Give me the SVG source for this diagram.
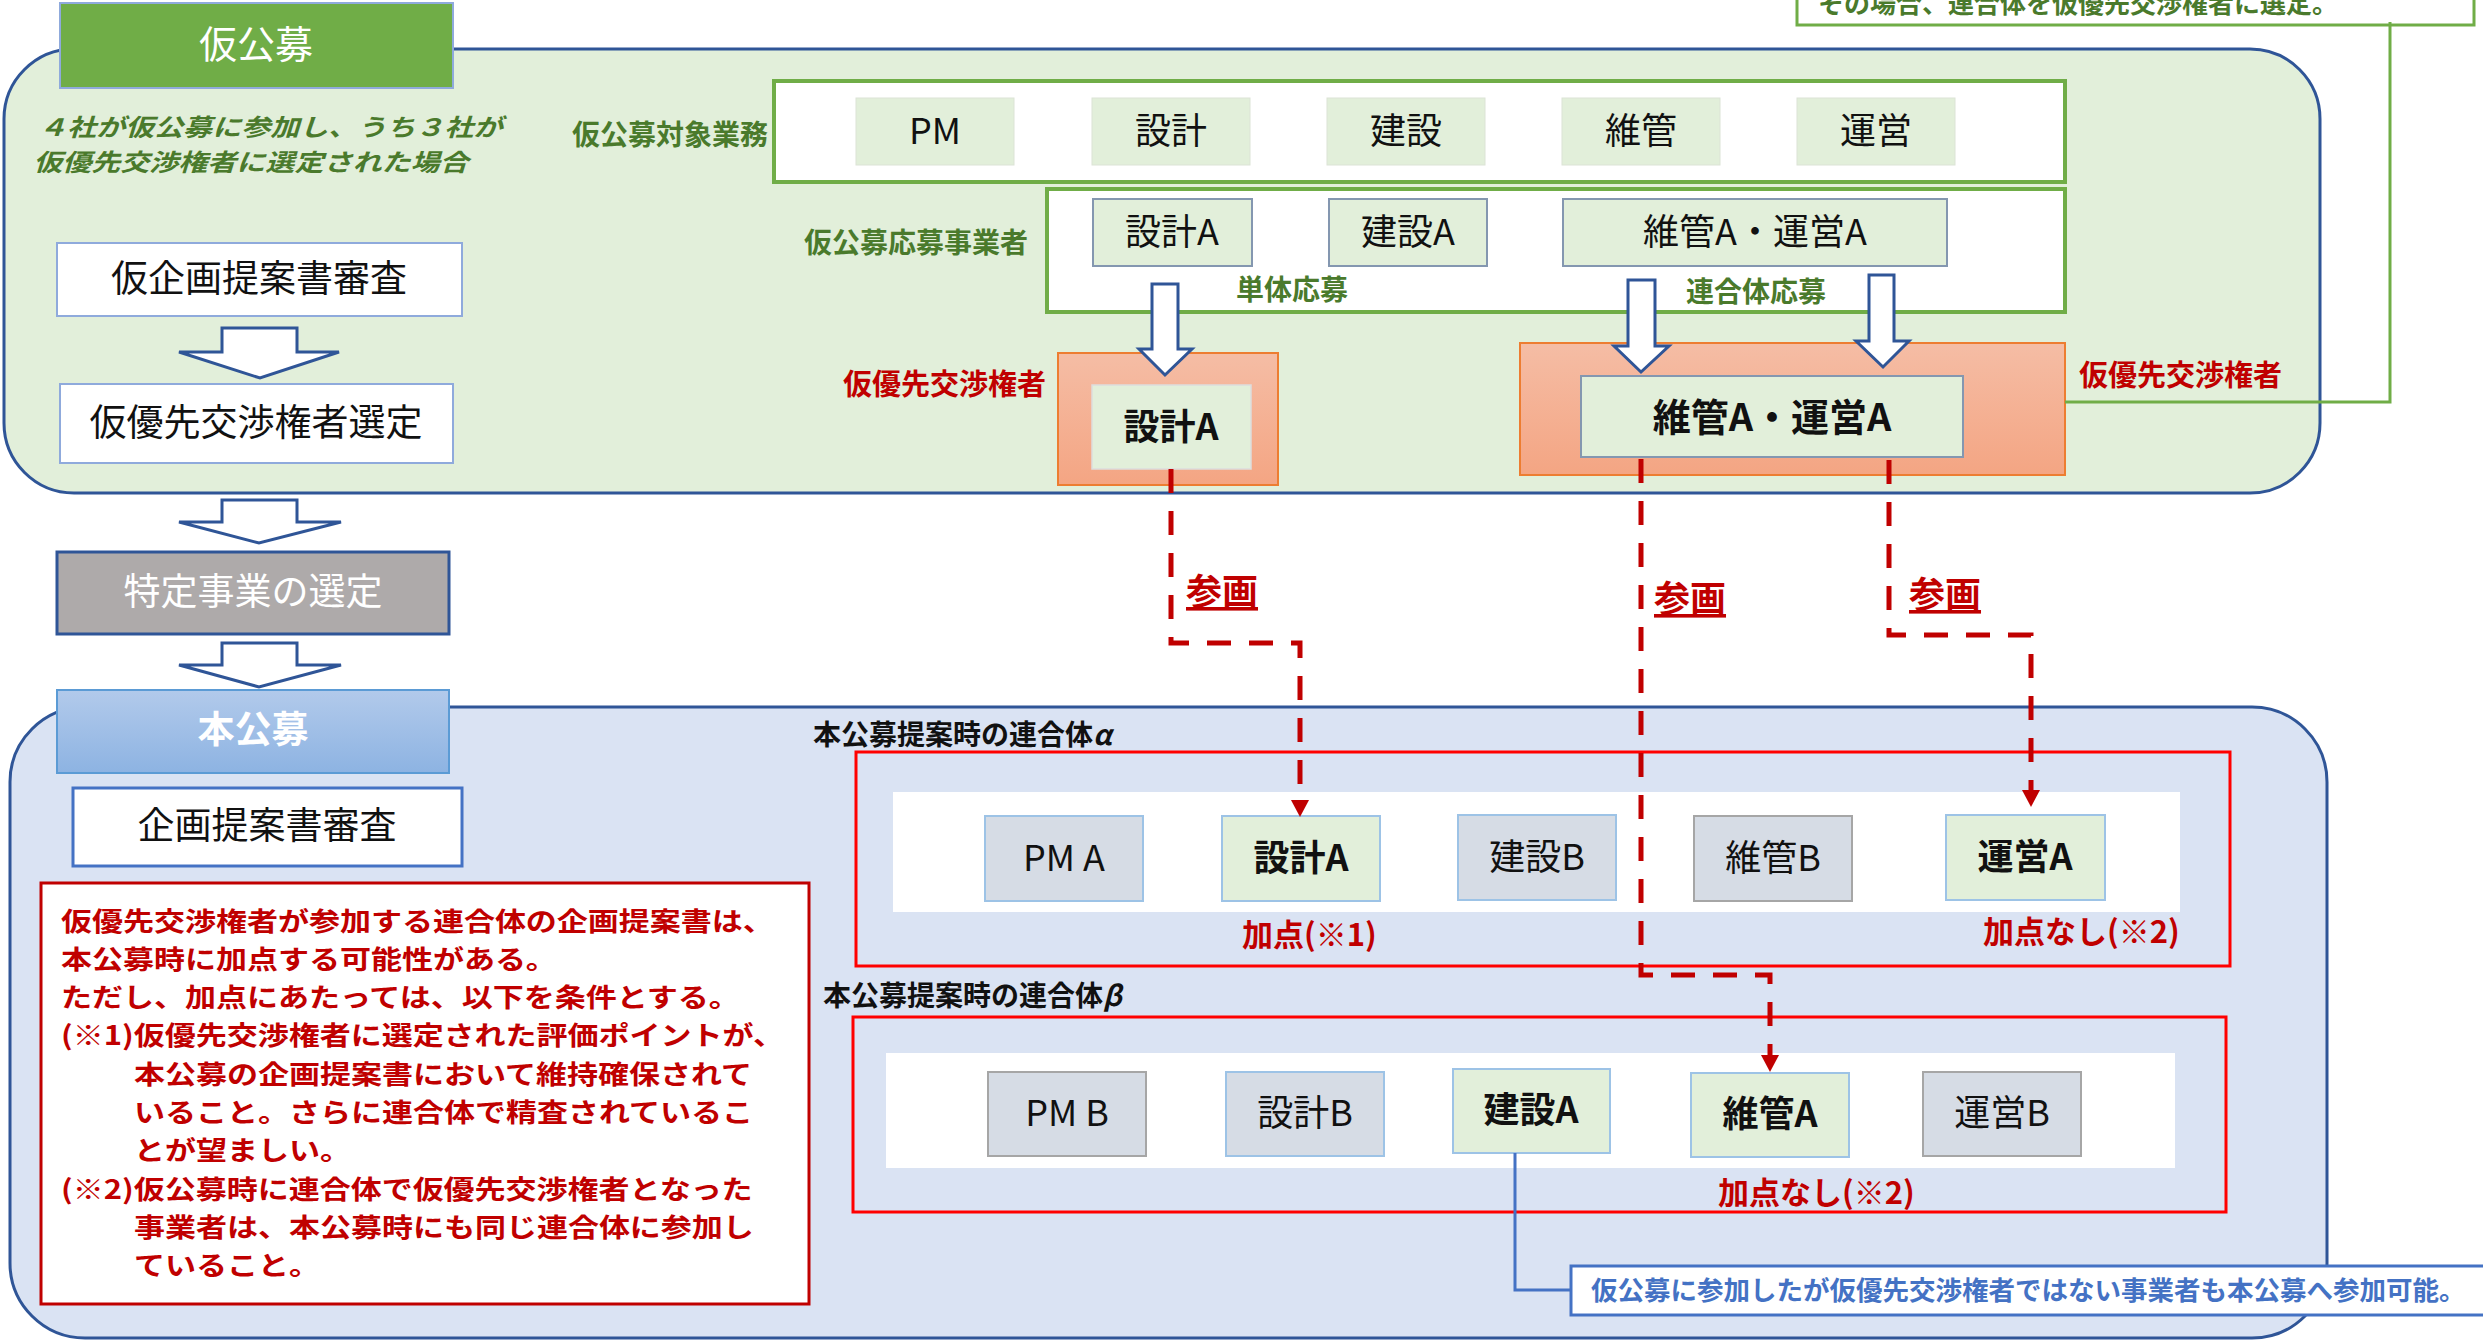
<svg xmlns="http://www.w3.org/2000/svg" width="2483" height="1340" viewBox="0 0 2483 1340">
<defs>
<linearGradient id="gOrange" x1="0" y1="0" x2="0" y2="1"><stop offset="0" stop-color="#F5BDA5"/><stop offset="1" stop-color="#F4A583"/></linearGradient>
<linearGradient id="gBlue" x1="0" y1="0" x2="0" y2="1"><stop offset="0" stop-color="#B2CAEB"/><stop offset="1" stop-color="#8DB3E2"/></linearGradient>
<marker id="arr" markerUnits="userSpaceOnUse" markerWidth="20" markerHeight="20" viewBox="0 -10 18 20" refX="0" refY="0" orient="auto"><path d="M0,-9 L17,0 L0,9 Z" fill="#C00000"/></marker>
<style>
text{font-family:"Noto Sans CJK JP","Noto Sans",sans-serif}
.item{font-size:36px;text-anchor:middle;fill:#111}
.b{font-weight:700}
.lbl{font-size:28px;font-weight:700;fill:#4A7A2C}
.red{fill:#C00000;font-weight:700}
.wt{fill:#fff;font-size:37px;text-anchor:middle}
.blk{stroke:#2F5597;stroke-width:3;fill:#fff}
.dash{fill:none;stroke:#C00000;stroke-width:5;stroke-dasharray:24 18}
.tbox{fill:#E2EFDA;stroke:#DCE3D6;stroke-width:1}
.abox{fill:#E2EFDA;stroke:#8497B0;stroke-width:2}
.gbox{fill:#D6DCE5}
.gbl{stroke:#9DC3E6;stroke-width:2}
.ggr{stroke:#A6A6A6;stroke-width:2}
.lbox{fill:#fff;stroke:#8FAADC;stroke-width:2}
.rtxt{font-size:26.5px;fill:#C00000;font-weight:700}
</style>
</defs>
<rect width="2483" height="1340" fill="#fff"/>

<g id="note-top">
<rect x="1797" y="-40" width="677" height="65" fill="#fff" stroke="#70AD47" stroke-width="3"/>
<text x="1818" y="13" class="lbl" style="font-size:26px">その場合、連合体を仮優先交渉権者に選定。</text>
</g>

<g id="kari-area">
<rect x="4" y="49" width="2316" height="444" rx="70" fill="#E2EFDA" stroke="#2F5597" stroke-width="3"/>
</g>
<g id="kari-header">
<rect x="60" y="3" width="393" height="85" fill="#70AD47" stroke="#8FAADC" stroke-width="2"/>
<text x="256" y="58" class="wt" style="font-size:38px">仮公募</text>
</g>
<g id="kari-note">
<g transform="matrix(1.21,0,0,1,38,0)">
<text x="0" y="136" class="lbl" style="font-size:24px;font-style:italic">４社が仮公募に参加し、うち３社が</text>
<text x="-4" y="171" class="lbl" style="font-size:24px;font-style:italic">仮優先交渉権者に選定された場合</text>
</g>
</g>

<g id="target-work">
<text x="768" y="145" class="lbl" text-anchor="end">仮公募対象業務</text>
<rect x="774" y="81" width="1291" height="101" fill="#fff" stroke="#70AD47" stroke-width="4"/>
<rect class="tbox" x="856" y="98" width="158" height="67"/><text class="item" x="935" y="144">PM</text>
<rect class="tbox" x="1092" y="98" width="158" height="67"/><text class="item" x="1171" y="144">設計</text>
<rect class="tbox" x="1327" y="98" width="158" height="67"/><text class="item" x="1406" y="144">建設</text>
<rect class="tbox" x="1562" y="98" width="158" height="67"/><text class="item" x="1641" y="144">維管</text>
<rect class="tbox" x="1797" y="98" width="158" height="67"/><text class="item" x="1876" y="144">運営</text>
</g>

<g id="applicants">
<text x="1028" y="253" class="lbl" text-anchor="end">仮公募応募事業者</text>
<rect x="1047" y="189" width="1018" height="123" fill="#fff" stroke="#70AD47" stroke-width="4"/>
<rect class="abox" x="1093" y="199" width="159" height="67"/><text class="item" x="1172" y="245">設計A</text>
<rect class="abox" x="1329" y="199" width="158" height="67"/><text class="item" x="1408" y="245">建設A</text>
<rect class="abox" x="1563" y="199" width="384" height="67"/><text class="item" x="1755" y="245">維管A・運営A</text>
<text x="1236" y="300" class="lbl">単体応募</text>
<text x="1686" y="302" class="lbl">連合体応募</text>
</g>

<g id="pref-1">
<text x="843" y="395" class="red" font-size="29">仮優先交渉権者</text>
<rect x="1058" y="353" width="220" height="132" fill="url(#gOrange)" stroke="#ED7D31" stroke-width="2"/>
<rect x="1092" y="385" width="159" height="84" fill="#E2EFDA" stroke="#DDDDDD" stroke-width="1.5"/>
<text class="item b" x="1171" y="440">設計A</text>
</g>
<g id="pref-2">
<rect x="1520" y="343" width="545" height="132" fill="url(#gOrange)" stroke="#ED7D31" stroke-width="2"/>
<rect x="1581" y="376" width="382" height="81" fill="#E2EFDA" stroke="#8497B0" stroke-width="2"/>
<text class="item b" x="1772" y="431" style="font-size:38px">維管A・運営A</text>
<text x="2079" y="386" class="red" font-size="29">仮優先交渉権者</text>
</g>

<g id="left-kari-review">
<rect class="lbox" x="57" y="243" width="405" height="73"/>
<text class="item" x="259" y="292" style="font-size:37px">仮企画提案書審査</text>
</g>
<g id="left-kari-select">
<rect class="lbox" x="60" y="384" width="393" height="79"/>
<text class="item" x="256" y="436" style="font-size:37px">仮優先交渉権者選定</text>
</g>
<g id="left-tokutei">
<rect x="57" y="552" width="392" height="82" fill="#AEAAAA" stroke="#2F5597" stroke-width="3"/>
<text class="wt" x="253" y="605">特定事業の選定</text>
</g>

<g id="hon-area">
<rect x="10" y="707" width="2317" height="631" rx="75" fill="#DAE3F3" stroke="#2F5597" stroke-width="3"/>
</g>
<g id="hon-header">
<rect x="57" y="690" width="392" height="83" fill="url(#gBlue)" stroke="#5B9BD5" stroke-width="2"/>
<text class="wt b" x="253" y="743">本公募</text>
</g>
<g id="hon-review">
<rect x="73" y="788" width="389" height="78" fill="#fff" stroke="#4472C4" stroke-width="3"/>
<text class="item" x="267" y="839" style="font-size:37px">企画提案書審査</text>
</g>

<g id="conditions">
<rect x="41" y="883" width="768" height="421" fill="#fff" stroke="#C00000" stroke-width="3"/>
<g transform="matrix(1.17,0,0,1,61,0)">
<text class="rtxt" x="0" y="931">仮優先交渉権者が参加する連合体の企画提案書は、</text>
<text class="rtxt" x="0" y="969">本公募時に加点する可能性がある。</text>
<text class="rtxt" x="0" y="1007">ただし、加点にあたっては、以下を条件とする。</text>
<text class="rtxt" x="0" y="1045">(※1)仮優先交渉権者に選定された評価ポイントが、</text>
<text class="rtxt" x="62.4" y="1084">本公募の企画提案書において維持確保されて</text>
<text class="rtxt" x="62.4" y="1122">いること。さらに連合体で精査されているこ</text>
<text class="rtxt" x="62.4" y="1160">とが望ましい。</text>
<text class="rtxt" x="0" y="1199">(※2)仮公募時に連合体で仮優先交渉権者となった</text>
<text class="rtxt" x="62.4" y="1237">事業者は、本公募時にも同じ連合体に参加し</text>
<text class="rtxt" x="62.4" y="1275">ていること。</text>
</g>
</g>

<g id="jv-alpha">
<text x="813" y="745" font-size="28" font-weight="700" fill="#111">本公募提案時の連合体<tspan font-style="italic">α</tspan></text>
<rect x="856" y="752" width="1374" height="214" fill="none" stroke="#FF0000" stroke-width="3"/>
<rect x="893" y="792" width="1287" height="120" fill="#fff"/>
<rect class="gbox gbl" x="985" y="816" width="158" height="85"/><text class="item" x="1064" y="871">PM A</text>
<rect class="gbl" fill="#E2EFDA" x="1222" y="816" width="158" height="85"/><text class="item b" x="1301" y="871">設計A</text>
<rect class="gbox gbl" x="1458" y="815" width="158" height="85"/><text class="item" x="1537" y="870">建設B</text>
<rect class="gbox ggr" x="1694" y="816" width="158" height="85"/><text class="item" x="1773" y="871">維管B</text>
<rect class="gbl" fill="#E2EFDA" x="1946" y="815" width="159" height="85"/><text class="item b" x="2025" y="870">運営A</text>
<text x="1242" y="946" class="red" font-size="31">加点(※1)</text>
<text x="1983" y="943" class="red" font-size="31">加点なし(※2)</text>
</g>

<g id="jv-beta">
<text x="823" y="1006" font-size="28" font-weight="700" fill="#111">本公募提案時の連合体<tspan font-style="italic">β</tspan></text>
<rect x="853" y="1017" width="1373" height="195" fill="none" stroke="#FF0000" stroke-width="3"/>
<rect x="886" y="1053" width="1289" height="115" fill="#fff"/>
<rect class="gbox ggr" x="988" y="1072" width="158" height="84"/><text class="item" x="1067" y="1126">PM B</text>
<rect class="gbox gbl" x="1226" y="1072" width="158" height="84"/><text class="item" x="1305" y="1126">設計B</text>
<rect class="gbl" fill="#E2EFDA" x="1453" y="1069" width="157" height="84"/><text class="item b" x="1531" y="1123">建設A</text>
<rect class="gbl" fill="#E2EFDA" x="1691" y="1073" width="158" height="84"/><text class="item b" x="1770" y="1127">維管A</text>
<rect class="gbox ggr" x="1923" y="1072" width="158" height="84"/><text class="item" x="2002" y="1126">運営B</text>
<text x="1718" y="1204" class="red" font-size="31">加点なし(※2)</text>
</g>

<g id="connectors">
<path class="blk" d="M222,328 H297 V352 H339 L260,378 L179,352 H222 Z"/>
<path class="blk" d="M222,500 H297 V522 H341 L259,543 L179,522 H222 Z"/>
<path class="blk" d="M222,643 H297 V665 H341 L259,687 L179,665 H222 Z"/>
<path class="blk" d="M1152,284 H1178 V349 H1192 L1165,375 L1139,349 H1152 Z"/>
<path class="blk" d="M1628,280 H1655 V346 H1669 L1641,372 L1614,346 H1628 Z"/>
<path class="blk" d="M1869,275 H1894 V341 H1909 L1883,367 L1856,341 H1869 Z"/>
<path d="M2390,22 V402 H2065" fill="none" stroke="#70AD47" stroke-width="3"/>
<path class="dash" d="M1171,469 V643 H1300 V800" marker-end="url(#arr)"/>
<path class="dash" d="M1641,459 V975 H1770 V1055" marker-end="url(#arr)"/>
<path class="dash" d="M1889,460 V635 H2031 V790" marker-end="url(#arr)"/>
<text x="1186" y="605" class="red" font-size="36" text-decoration="underline">参画</text>
<text x="1654" y="612" class="red" font-size="36" text-decoration="underline">参画</text>
<text x="1909" y="608" class="red" font-size="36" text-decoration="underline">参画</text>
<path d="M1515,1153 V1290 H1571" fill="none" stroke="#4472C4" stroke-width="3"/>
</g>

<g id="callout">
<rect x="1571" y="1266" width="960" height="49" fill="#fff" stroke="#4472C4" stroke-width="3"/>
<text x="1591" y="1300" font-size="26.5" font-weight="700" fill="#4472C4">仮公募に参加したが仮優先交渉権者ではない事業者も本公募へ参加可能。</text>
</g>
</svg>
